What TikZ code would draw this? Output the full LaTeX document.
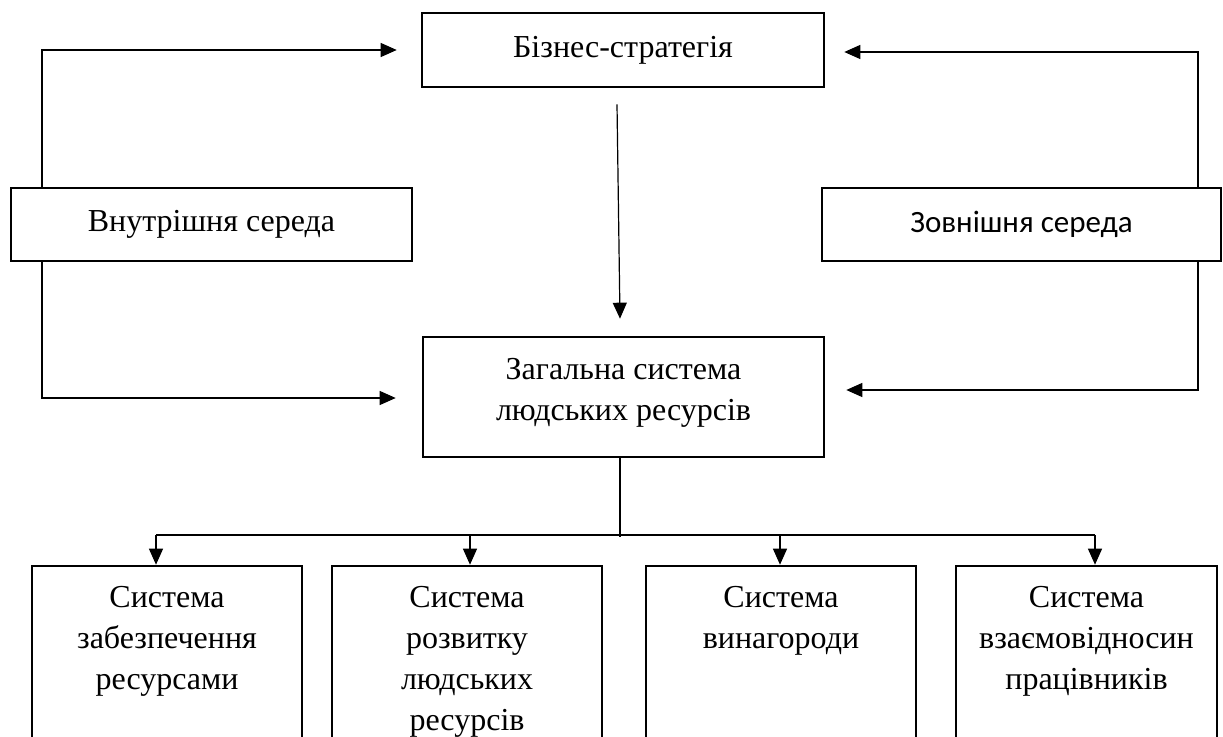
\documentclass[tikz,border=0pt]{standalone}
\usepackage{fontspec}
\setmainfont{Liberation Serif}
\newfontfamily\calibrifont{Carlito}
\usetikzlibrary{arrows.meta,calc}

\begin{document}
\fontsize{32}{41}\selectfont
\begin{tikzpicture}[x=1pt,y=-1pt,
  box/.style={draw, line width=2.6pt, inner sep=0pt, align=center},
  boxtext/.style={anchor=north, inner sep=0pt, align=center},
  conn/.style={line width=1.2pt, -{Triangle[length=16pt,width=14pt]}},
  wire/.style={line width=1.2pt}]
\useasboundingbox (0,0) rectangle (1223,736);
% upper level
\node[box, minimum width=402pt, minimum height=74pt] (biz) at (623,50) {Бізнес-стратегія};
\node[box, minimum width=401pt, minimum height=73pt] (inner) at (211.5,224.5) {Внутрішня середа};
\node[box, minimum width=399pt, minimum height=73pt, font={\calibrifont\fontsize{31}{41}\selectfont}] (outer) at (1021.5,224.5) {Зовнішня середа};
% general system
\node[box, minimum width=401pt, minimum height=120pt] (hr) at (623.5,397) {};
\node[boxtext] (hrt) at ($(hr.north)+(0,22)$) {Загальна система\\людських ресурсів};
% subsystems
\node[box, minimum width=270pt, minimum height=194pt] (s1) at (167,663) {};
\node[boxtext] (s1t) at ($(s1.north)+(0,21)$) {Система\\забезпечення\\ресурсами};
\node[box, minimum width=270pt, minimum height=194pt] (s2) at (467,663) {};
\node[boxtext] (s2t) at ($(s2.north)+(0,21)$) {Система\\розвитку\\людських\\ресурсів};
\node[box, minimum width=270pt, minimum height=194pt] (s3) at (781,663) {};
\node[boxtext] (s3t) at ($(s3.north)+(0,21)$) {Система\\винагороди};
\node[box, minimum width=261pt, minimum height=194pt] (s4) at (1086.5,663) {};
\node[boxtext] (s4t) at ($(s4.north)+(0,21)$) {Система\\взаємовідносин\\працівників};
% side trunks
\coordinate (lx) at (42,0);
\coordinate (rx) at (1198,0);
\draw[conn] (inner.north -| lx) |- ($(biz.west)+(-24,0)$);
\draw[conn] (outer.north -| rx) |- ($(biz.east)+(19,2)$);
\draw[conn] (inner.south -| lx) |- ($(hr.west)+(-26,1)$);
\draw[conn] (outer.south -| rx) |- ($(hr.east)+(21,-7)$);
\draw[conn] ($(biz.south)+(-6,16)$) -- ($(hr.north)+(-3.5,-17)$);
% bus
\coordinate (mid) at (620,537);
\coordinate (b1) at (156,535);
\coordinate (b2) at (470,535);
\coordinate (b3) at (780,535);
\coordinate (b4) at (1095,535);
\draw[wire] (hr.south -| mid) -- (mid);
\draw[wire] (b1) -- (b4);
\draw[conn] (b1) -- (b1 |- s1.north);
\draw[conn] (b2) -- (b2 |- s2.north);
\draw[conn] (b3) -- (b3 |- s3.north);
\draw[conn] (b4) -- (b4 |- s4.north);
\end{tikzpicture}
\end{document}
